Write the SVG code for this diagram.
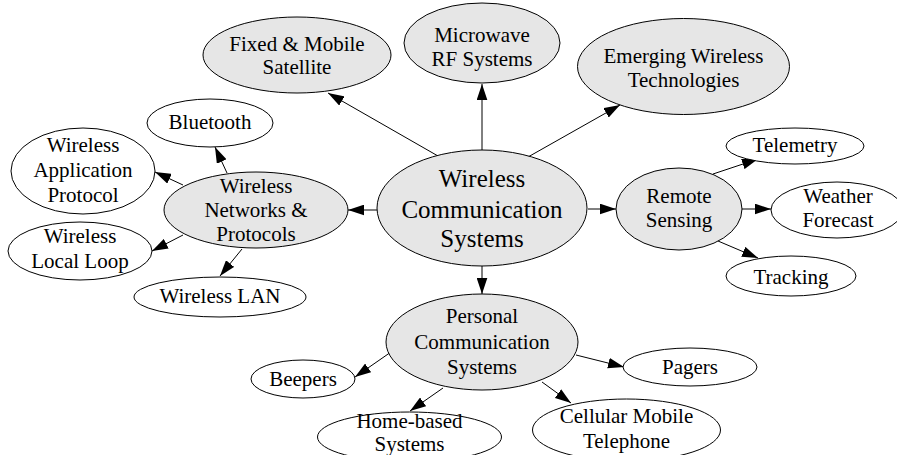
<svg xmlns="http://www.w3.org/2000/svg" width="897" height="455" viewBox="0 0 897 455">
<style>
.n ellipse{stroke:#000;stroke-width:1;fill:#fff}
.g ellipse{fill:#e6e6e6}
text{font-family:"Times New Roman",Times,"Liberation Serif",Tinos,"Noto Serif","DejaVu Serif",serif;font-size:21px;fill:#000;text-anchor:middle}
.big text{font-size:25px}
#edges line{stroke:#000;stroke-width:1;marker-end:url(#ah)}
</style>
<defs>
<marker id="ah" markerUnits="userSpaceOnUse" markerWidth="16" markerHeight="11" viewBox="0 0 15 10" refX="15" refY="5" orient="auto">
<path d="M0,0 L15,5 L0,10 z" fill="#000"/>
</marker>
</defs>
<g id="edges">
<line x1="438" y1="156" x2="328" y2="93"/>
<line x1="482" y1="151" x2="482" y2="84"/>
<line x1="528" y1="157" x2="620" y2="105"/>
<line x1="377" y1="210" x2="348" y2="210"/>
<line x1="588" y1="209" x2="616" y2="209"/>
<line x1="482" y1="266" x2="482" y2="294"/>
<line x1="713" y1="174" x2="758" y2="159"/>
<line x1="742" y1="209" x2="771" y2="209"/>
<line x1="718" y1="241" x2="758" y2="258"/>
<line x1="576" y1="355" x2="624" y2="367"/>
<line x1="542" y1="382" x2="571" y2="403"/>
<line x1="391" y1="352" x2="355" y2="377"/>
<line x1="443" y1="388" x2="410" y2="411"/>
<line x1="227" y1="173" x2="215" y2="147"/>
<line x1="183" y1="185" x2="155" y2="172"/>
<line x1="183" y1="235" x2="152" y2="251"/>
<line x1="242" y1="249" x2="220" y2="276"/>
</g>
<g id="wcs" class="n g big"><ellipse cx="482" cy="208" rx="105" ry="58"/><text x="482" y="187">Wireless</text><text x="482" y="218">Communication</text><text x="482" y="247">Systems</text></g>
<g id="fixed" class="n g"><ellipse cx="297" cy="55" rx="94" ry="38"/><text x="297" y="51">Fixed &amp; Mobile</text><text x="297" y="74">Satellite</text></g>
<g id="microwave" class="n g"><ellipse cx="482" cy="43" rx="78" ry="40"/><text x="482" y="42">Microwave</text><text x="482" y="66">RF Systems</text></g>
<g id="emerging" class="n g"><ellipse cx="683.5" cy="66.5" rx="106" ry="48"/><text x="683.5" y="63">Emerging Wireless</text><text x="683.5" y="87">Technologies</text></g>
<g id="remote" class="n g"><ellipse cx="679" cy="209" rx="63" ry="41"/><text x="679" y="203">Remote</text><text x="679" y="227">Sensing</text></g>
<g id="telemetry" class="n"><ellipse cx="795" cy="146" rx="69" ry="18"/><text x="795" y="152">Telemetry</text></g>
<g id="weather" class="n"><ellipse cx="837" cy="210" rx="66" ry="28"/><text x="838" y="203">Weather</text><text x="838" y="227">Forecast</text></g>
<g id="tracking" class="n"><ellipse cx="791" cy="276" rx="65" ry="20"/><text x="791" y="284">Tracking</text></g>
<g id="personal" class="n g"><ellipse cx="482" cy="342" rx="96" ry="48"/><text x="482" y="323">Personal</text><text x="482" y="349">Communication</text><text x="482" y="374">Systems</text></g>
<g id="pagers" class="n"><ellipse cx="690" cy="367" rx="67" ry="19"/><text x="690" y="374">Pagers</text></g>
<g id="cellular" class="n"><ellipse cx="626.5" cy="430" rx="94" ry="31"/><text x="626.5" y="423">Cellular Mobile</text><text x="626.5" y="448">Telephone</text></g>
<g id="home" class="n"><ellipse cx="409.5" cy="437" rx="92" ry="25"/><text x="409.5" y="428">Home-based</text><text x="409.5" y="451">Systems</text></g>
<g id="beepers" class="n"><ellipse cx="303" cy="379" rx="52" ry="19"/><text x="303" y="386">Beepers</text></g>
<g id="wlan" class="n"><ellipse cx="220" cy="297" rx="86" ry="20"/><text x="220" y="303">Wireless LAN</text></g>
<g id="wll" class="n"><ellipse cx="80" cy="251" rx="72" ry="29"/><text x="80" y="243">Wireless</text><text x="80" y="268">Local Loop</text></g>
<g id="wnp" class="n g"><ellipse cx="256" cy="210" rx="92" ry="38"/><text x="256" y="193">Wireless</text><text x="256" y="217">Networks &amp;</text><text x="256" y="241">Protocols</text></g>
<g id="wap" class="n"><ellipse cx="83" cy="171" rx="72" ry="43"/><text x="83" y="152">Wireless</text><text x="83" y="177">Application</text><text x="83" y="202">Protocol</text></g>
<g id="bluetooth" class="n"><ellipse cx="210" cy="123" rx="63" ry="24"/><text x="210" y="129">Bluetooth</text></g>
</svg>
